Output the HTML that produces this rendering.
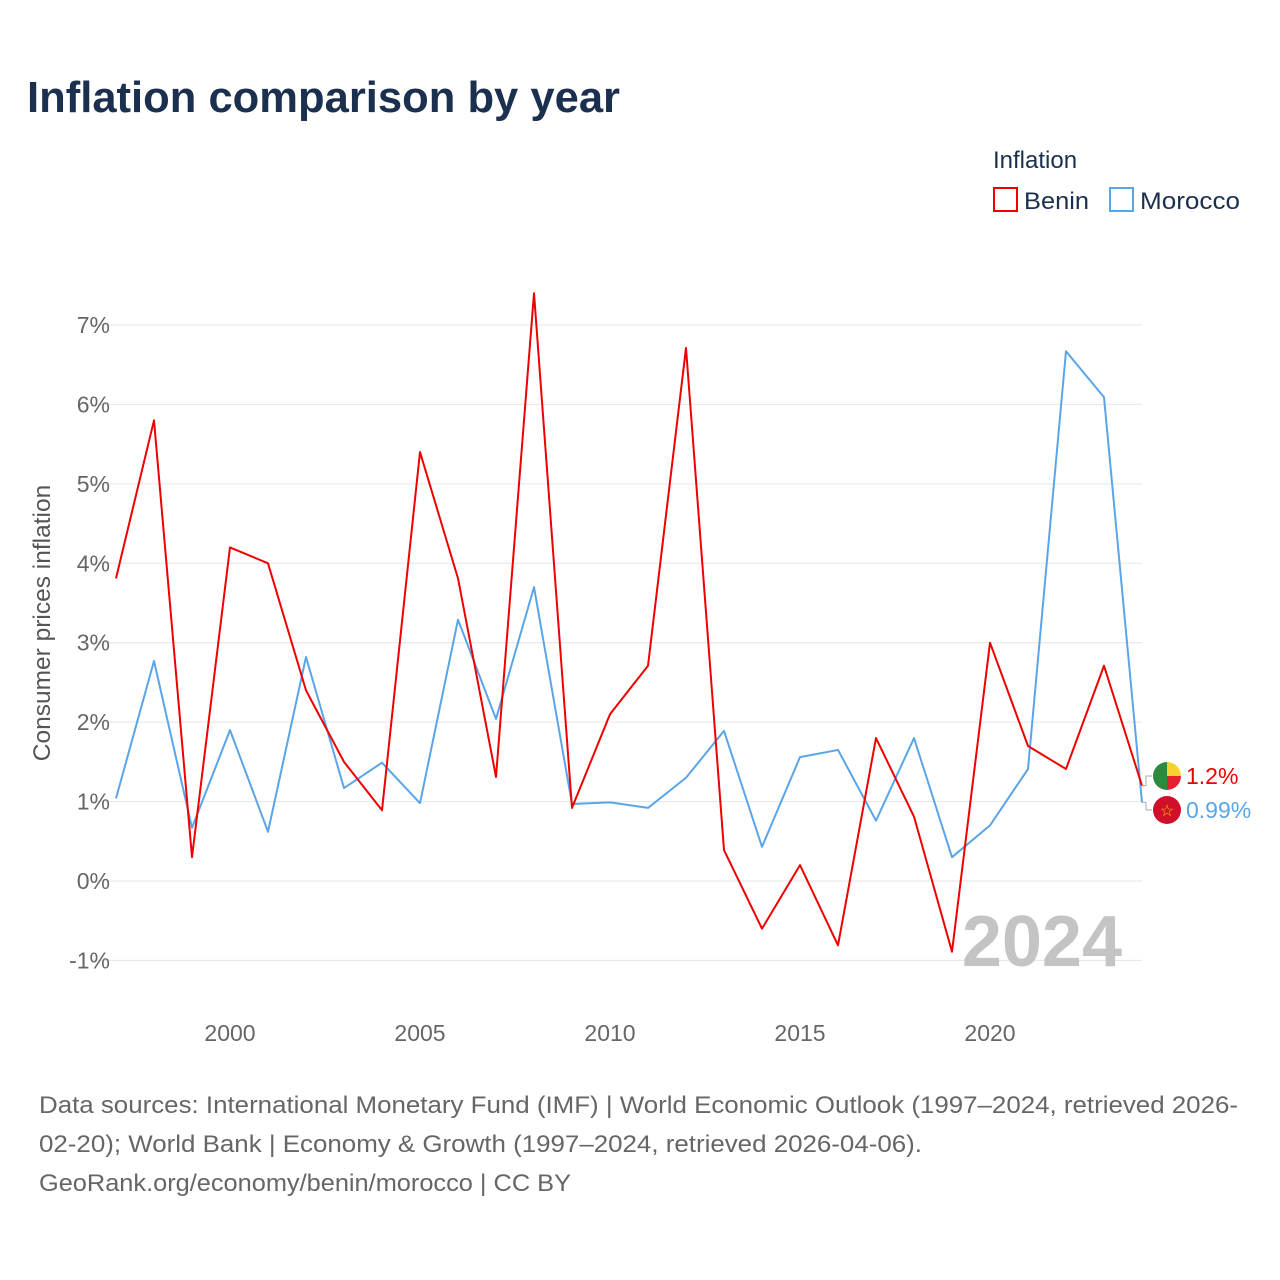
<!DOCTYPE html>
<html><head><meta charset="utf-8">
<style>
html,body{margin:0;padding:0;background:#fff;width:1280px;height:1280px;overflow:hidden;font-family:"Liberation Sans",sans-serif;}
</style></head>
<body>
<svg id="chart" width="1280" height="1280" xmlns="http://www.w3.org/2000/svg" font-family="'Liberation Sans', sans-serif">
<text x="27" y="112" font-size="44" font-weight="bold" fill="#1b2f4e" textLength="593" lengthAdjust="spacingAndGlyphs">Inflation comparison by year</text>
<text x="993" y="168" font-size="24" fill="#1b2f4e">Inflation</text>
<g>
<rect x="994" y="188" width="23" height="23" fill="none" stroke="#ee0000" stroke-width="2"/>
<text x="1024" y="209" font-size="24" fill="#1b2f4e" textLength="65" lengthAdjust="spacingAndGlyphs">Benin</text></g>
<g>
<rect x="1110" y="188" width="23" height="23" fill="none" stroke="#5aa5e8" stroke-width="2"/>
<text x="1140" y="209" font-size="24" fill="#1b2f4e" textLength="100" lengthAdjust="spacingAndGlyphs">Morocco</text></g>
<text transform="translate(50,623) rotate(-90)" text-anchor="middle" font-size="24.5" fill="#555">Consumer prices inflation</text>
<g id="grid"></g>
<g id="xticks"></g>
<text x="1122" y="966" text-anchor="end" font-size="72" font-weight="bold" fill="#c4c4c4">2024</text>
<g id="series"></g>
<g id="endlabels"></g>
<g font-size="24" fill="#666">
<text x="39" y="1113" textLength="1199" lengthAdjust="spacingAndGlyphs">Data sources: International Monetary Fund (IMF) | World Economic Outlook (1997–2024, retrieved 2026-</text>
<text x="39" y="1152" textLength="883" lengthAdjust="spacingAndGlyphs">02-20); World Bank | Economy &amp; Growth (1997–2024, retrieved 2026-04-06).</text>
<text x="39" y="1191" textLength="532" lengthAdjust="spacingAndGlyphs">GeoRank.org/economy/benin/morocco | CC BY</text>
</g>
</svg>
<script>
const years = [1997,1998,1999,2000,2001,2002,2003,2004,2005,2006,2007,2008,2009,2010,2011,2012,2013,2014,2015,2016,2017,2018,2019,2020,2021,2022,2023,2024];
const benin = [3.81,5.80,0.30,4.20,4.00,2.40,1.50,0.89,5.40,3.81,1.31,7.40,0.92,2.10,2.71,6.71,0.39,-0.60,0.20,-0.81,1.80,0.81,-0.89,3.00,1.70,1.41,2.71,1.2];
const morocco = [1.04,2.77,0.67,1.90,0.62,2.82,1.17,1.49,0.98,3.29,2.04,3.70,0.97,0.99,0.92,1.30,1.89,0.43,1.56,1.65,0.76,1.80,0.30,0.70,1.41,6.67,6.09,0.99];
const yTicks = [-1,0,1,2,3,4,5,6,7];
const xTicks = [2000,2005,2010,2015,2020];

const NS="http://www.w3.org/2000/svg";
const xS = y => 116 + (y-1997)*38;
const yS = v => 881 - v*79.43;
function mk(tag, attrs, parent){const e=document.createElementNS(NS,tag);for(const k in attrs)e.setAttribute(k,attrs[k]);parent.appendChild(e);return e;}
const grid=document.getElementById('grid');
yTicks.forEach(t=>{
  const l=mk('line',{x1:92,x2:1142,y1:yS(t),y2:yS(t),stroke:'#e6e6e6','stroke-width':1},grid);
  
  
  const tx=mk('text',{x:110,y:yS(t)+8,'text-anchor':'end','font-size':23,fill:'#666'},grid);
  tx.textContent=t+'%';
  
  
});
const xt=document.getElementById('xticks');
xTicks.forEach(t=>{
  const tx=mk('text',{x:xS(t),y:1041,'text-anchor':'middle','font-size':23,fill:'#666'},xt);
  tx.textContent=t;
  
  
});
const ser=document.getElementById('series');
function line(vals,color,name){
  const p=mk('polyline',{points:vals.map((v,i)=>xS(years[i])+','+yS(v)).join(' '),fill:'none',stroke:color,'stroke-width':2,'stroke-linejoin':'round'},ser);
  
  
}
line(morocco,'#5aa5e8','morocco-line');
line(benin,'#ee0000','benin-line');
const el=document.getElementById('endlabels');
function endLabel(v,ly,color,name,flag){
  const lx=xS(2024);
  mk('polyline',{points:`${lx},${yS(v)} ${lx+4},${yS(v)} ${lx+4},${ly} ${lx+10},${ly}`,fill:'none',stroke:'#aaa','stroke-width':1},el);
  const g=mk('g',{},el);
  
  
  flag(g,1167,ly);
  const t=mk('text',{x:1186,y:ly+8,'font-size':23,fill:color},g);
  t.textContent=v+'%';
}
endLabel(benin[27],776,'#ee0000','benin-end-label',(g,cx,cy)=>{
  mk('path',{d:`M${cx},${cy-14} A14,14 0 0 0 ${cx},${cy+14} Z`,fill:'#2a8a3e'},g);
  mk('path',{d:`M${cx},${cy-14} A14,14 0 0 1 ${cx+14},${cy} L${cx},${cy} Z`,fill:'#f5d230'},g);
  mk('path',{d:`M${cx},${cy} L${cx+14},${cy} A14,14 0 0 1 ${cx},${cy+14} Z`,fill:'#e5202f'},g);
});
endLabel(morocco[27],810,'#5aa5e8','morocco-end-label',(g,cx,cy)=>{
  mk('circle',{cx:cx,cy:cy,r:14,fill:'#d0102a'},g);
  const s=mk('text',{x:cx,y:cy+6,'text-anchor':'middle','font-size':16,fill:'#f5c400'},g);
  s.textContent='☆';
});
</script>
</body></html>
